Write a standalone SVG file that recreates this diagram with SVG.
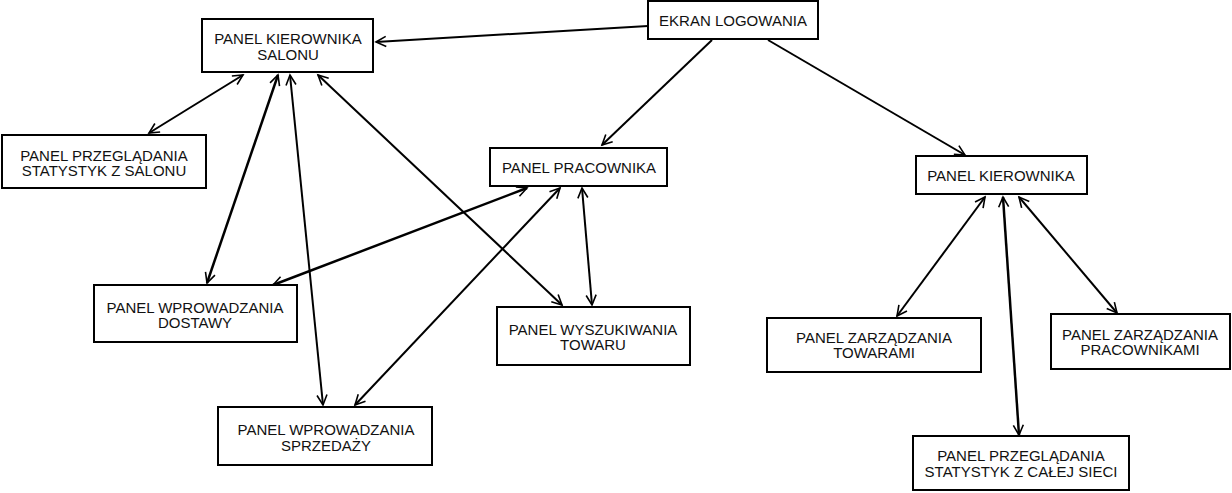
<svg xmlns="http://www.w3.org/2000/svg" width="1232" height="493" viewBox="0 0 1232 493">
<style>
.box{fill:#fff;stroke:#000;stroke-width:2}
.t{font-family:"Liberation Sans",Arial,sans-serif;font-size:15px;fill:#111;text-anchor:middle}
.c{fill:none;stroke:#000;stroke-width:2}
.one{marker-end:url(#ah)}
.two{marker-start:url(#ah);marker-end:url(#ah)}
</style>
<defs>
<marker id="ah" markerUnits="userSpaceOnUse" markerWidth="14" markerHeight="14" refX="11" refY="6" orient="auto-start-reverse" viewBox="0 0 14 12">
<path d="M1,1 L11,6 L1,11" fill="none" stroke="#000" stroke-width="1.6"/>
</marker>
</defs>
<rect width="1232" height="493" fill="#fff"/>
<g id="connectors">
<line class="c one" x1="648" y1="26" x2="376" y2="42"/>
<line class="c one" x1="712" y1="40" x2="602" y2="145"/>
<line class="c one" x1="768" y1="40" x2="965" y2="155"/>
<line class="c two" x1="243" y1="75" x2="149" y2="133"/>
<line class="c two" x1="278" y1="75" x2="207" y2="283" style="stroke-width:2.5"/>
<line class="c two" x1="290" y1="75" x2="323" y2="405"/>
<line class="c two" x1="318" y1="75" x2="562" y2="305"/>
<line class="c two" x1="527" y1="188" x2="273" y2="285" style="stroke-width:2.5"/>
<line class="c two" x1="560" y1="188" x2="355" y2="405"/>
<line class="c two" x1="582" y1="188" x2="592" y2="305"/>
<line class="c two" x1="985" y1="197" x2="897" y2="316"/>
<line class="c two" x1="1003" y1="197" x2="1019" y2="435" style="stroke-width:2.5"/>
<line class="c two" x1="1019" y1="197" x2="1117" y2="313"/>
</g>
<g id="ekran">
<rect class="box" x="648" y="1" width="170" height="38"/>
<text class="t" x="733" y="26">EKRAN LOGOWANIA</text>
</g>
<g id="salon">
<rect class="box" x="202" y="19" width="171" height="53"/>
<text class="t" x="288" y="44">PANEL KIEROWNIKA</text>
<text class="t" x="288" y="60">SALONU</text>
</g>
<g id="stat-salon">
<rect class="box" x="2" y="135" width="204" height="53"/>
<text class="t" x="104" y="161">PANEL PRZEGLĄDANIA</text>
<text class="t" x="104" y="176">STATYSTYK Z SALONU</text>
</g>
<g id="pracownik">
<rect class="box" x="490" y="148" width="177" height="38"/>
<text class="t" x="579" y="173">PANEL PRACOWNIKA</text>
</g>
<g id="wyszukiwanie">
<rect class="box" x="497" y="307" width="193" height="58"/>
<text class="t" x="593" y="335">PANEL WYSZUKIWANIA</text>
<text class="t" x="593" y="350">TOWARU</text>
</g>
<g id="dostawy">
<rect class="box" x="94" y="285" width="203" height="57"/>
<text class="t" x="195" y="313">PANEL WPROWADZANIA</text>
<text class="t" x="195" y="328">DOSTAWY</text>
</g>
<g id="sprzedaz">
<rect class="box" x="218" y="407" width="214" height="58"/>
<text class="t" x="326" y="435">PANEL WPROWADZANIA</text>
<text class="t" x="326" y="451">SPRZEDAŻY</text>
</g>
<g id="kierownik">
<rect class="box" x="916" y="156" width="171" height="38"/>
<text class="t" x="1001" y="181">PANEL KIEROWNIKA</text>
</g>
<g id="towary">
<rect class="box" x="767" y="318" width="214" height="54"/>
<text class="t" x="874" y="343">PANEL ZARZĄDZANIA</text>
<text class="t" x="874" y="358">TOWARAMI</text>
</g>
<g id="pracownicy">
<rect class="box" x="1051" y="314" width="179" height="55"/>
<text class="t" x="1140" y="340">PANEL ZARZĄDZANIA</text>
<text class="t" x="1140" y="355">PRACOWNIKAMI</text>
</g>
<g id="stat-siec">
<rect class="box" x="913" y="436" width="216" height="54"/>
<text class="t" x="1021" y="461">PANEL PRZEGLĄDANIA</text>
<text class="t" x="1021" y="477">STATYSTYK Z CAŁEJ SIECI</text>
</g>
</svg>
